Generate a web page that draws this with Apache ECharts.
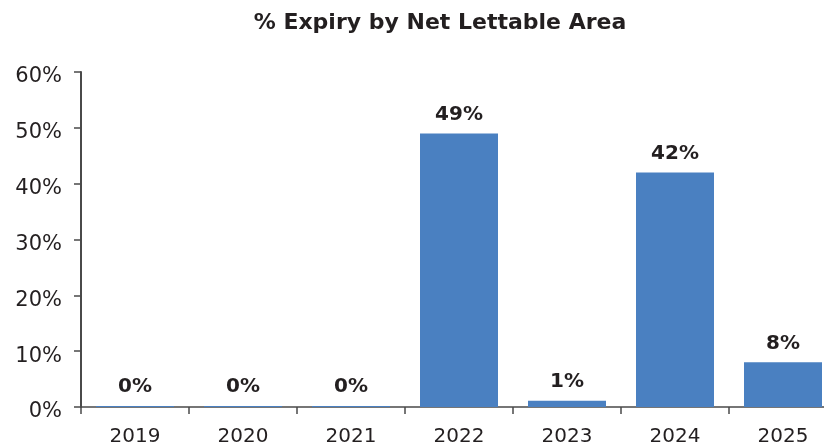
<!DOCTYPE html>
<html>
<head>
<meta charset="utf-8">
<script src="https://cdn.jsdelivr.net/npm/echarts@6/dist/echarts.min.js"></script>
<style>html,body{margin:0;padding:0;background:#fff}#c{width:824px;height:446px}</style>
</head>
<body>
<div id="c"></div>
<script>
const titleText = '% Expiry by Net Lettable Area';
const categories = ['2019', '2020', '2021', '2022', '2023', '2024', '2025'];
const expiryPct = [0.2, 0.2, 0.2, 49, 1.1, 42, 8];

const chart = echarts.init(document.getElementById('c'), null, {renderer: 'canvas'});
const font = 'DejaVu Sans';
chart.setOption({
  animation: false,
  backgroundColor: '#ffffff',
  title: {
    text: titleText,
    left: 440,
    top: 12,
    padding: 0,
    textAlign: 'center',
    textStyle: {fontFamily: font, fontSize: 22, fontWeight: 'bold', color: '#231f20'}
  },
  grid: {left: 81, top: 72, width: 756, height: 335, outerBoundsMode: 'none', containLabel: false},
  xAxis: {
    type: 'category',
    data: categories,
    axisLine: {lineStyle: {color: '#4a4a4a', width: 1.5}},
    axisTick: {show: true, length: 7, lineStyle: {color: '#4a4a4a', width: 1.5}},
    axisLabel: {fontFamily: font, fontSize: 20, color: '#231f20', margin: 20}
  },
  yAxis: {
    type: 'value',
    min: 0, max: 60, interval: 10,
    axisLine: {show: true, lineStyle: {color: '#4a4a4a', width: 2}},
    axisTick: {show: true, length: 7, lineStyle: {color: '#4a4a4a', width: 1.5}},
    splitLine: {show: false},
    axisLabel: {fontFamily: font, fontSize: 21, color: '#231f20', margin: 19, verticalAlign: 'top', lineHeight: 10, formatter: '{value}%'}
  },
  series: [{
    type: 'bar',
    data: expiryPct,
    barWidth: 78,
    itemStyle: {color: '#4a80c1'},
    label: {
      show: true,
      position: 'top',
      distance: 9,
      fontFamily: font,
      fontSize: 20,
      fontWeight: 'bold',
      color: '#231f20',
      formatter: p => Math.round(p.value) + '%'
    }
  }]
});
</script>
</body>
</html>
